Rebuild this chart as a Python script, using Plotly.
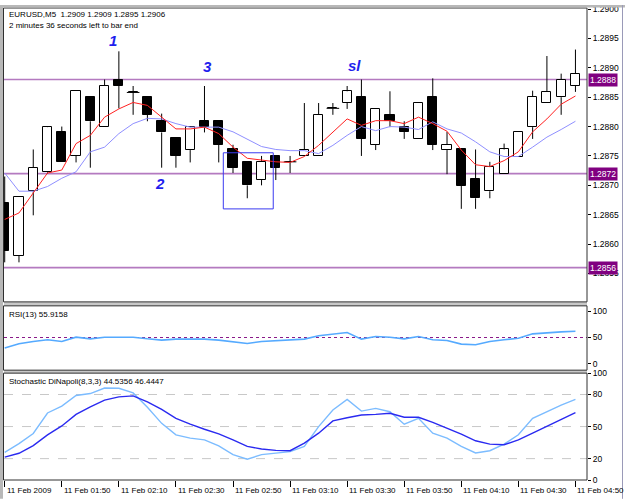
import plotly.graph_objects as go

# ---------------- data ----------------
bars = list(range(41))  # M5 bars from 01:30 to 04:50
opens  = [1.28670,1.28580,1.28690,1.28722,1.28791,1.28750,1.28851,1.28799,1.28880,1.28858,
          1.28851,1.28810,1.28780,1.28760,1.28809,1.28810,1.28761,1.28740,1.28709,1.28750,
          1.28740,1.28750,1.28750,1.28831,1.28840,1.28851,1.28769,1.28820,1.28799,1.28779,
          1.28851,1.28760,1.28761,1.28710,1.28690,1.28719,1.28749,1.28799,1.28840,1.28850,
          1.28869]
highs  = [1.28715,1.28680,1.28761,1.28800,1.28800,1.28860,1.28851,1.28880,1.28928,1.28869,
          1.28851,1.28822,1.28780,1.28800,1.28869,1.28810,1.28769,1.28740,1.28750,1.28750,
          1.28750,1.28840,1.28840,1.28840,1.28869,1.28880,1.28830,1.28860,1.28809,1.28840,
          1.28882,1.28791,1.28761,1.28761,1.28740,1.28771,1.28791,1.28861,1.28920,1.28890,
          1.28931]
lows   = [1.28569,1.28569,1.28649,1.28720,1.28739,1.28739,1.28730,1.28799,1.28831,1.28820,
          1.28809,1.28730,1.28730,1.28739,1.28790,1.28739,1.28721,1.28678,1.28700,1.28709,
          1.28721,1.28750,1.28750,1.28820,1.28830,1.28750,1.28760,1.28799,1.28779,1.28779,
          1.28760,1.28719,1.28660,1.28660,1.28678,1.28719,1.28749,1.28779,1.28840,1.28820,
          1.28859]
closes = [1.28589,1.28680,1.28730,1.28799,1.28739,1.28860,1.28809,1.28869,1.28869,1.28858,
          1.28820,1.28790,1.28750,1.28799,1.28799,1.28769,1.28730,1.28700,1.28740,1.28730,
          1.28740,1.28760,1.28820,1.28831,1.28860,1.28779,1.28830,1.28810,1.28791,1.28840,
          1.28769,1.28769,1.28699,1.28678,1.28731,1.28761,1.28791,1.28851,1.28859,1.28880,
          1.28890]
ma_fast = [1.28642,1.28653,1.28687,1.28721,1.28726,1.28771,1.28785,1.28816,1.28830,1.28841,
           1.28836,1.28816,1.28796,1.28796,1.28799,1.28788,1.28765,1.28746,1.28743,1.28740,
           1.28739,1.28749,1.28768,1.28791,1.28813,1.28802,1.28810,1.28810,1.28805,1.28816,
           1.28805,1.28792,1.28760,1.28735,1.28732,1.28742,1.28757,1.28791,1.28813,1.28838,
           1.28852]
ma_slow = [1.28721,1.28690,1.28690,1.28698,1.28712,1.28723,1.28757,1.28765,1.28788,1.28805,
           1.28814,1.28813,1.28805,1.28799,1.28799,1.28799,1.28791,1.28779,1.28766,1.28761,
           1.28759,1.28759,1.28754,1.28768,1.28785,1.28800,1.28793,1.28800,1.28799,1.28795,
           1.28808,1.28796,1.28789,1.28774,1.28757,1.28749,1.28749,1.28765,1.28782,1.28795,
           1.28809]
rsi = [30,38.2,42.5,45.7,42.5,50.6,47.5,50.6,50.6,50.6,47.5,45,46.9,46.9,46.9,45,42.5,38.8,
       42.5,43.8,45.7,46.9,53.2,55.6,59.4,46.9,51.9,50.6,47.5,51.9,45.7,44.4,37.5,36.3,42.5,
       45.7,48.7,56.9,59.4,60.7,61.9]
stoch_k = [25.8,34,43.5,62.7,69.1,79.1,80.9,86.1,85.8,81.5,68,53,42.2,39.2,37.6,32.0,23.7,
           19.4,23.7,24.8,26.5,31.4,50,65.5,75.4,64.5,67,63.9,52.2,57.7,43.8,39.2,31.4,25.3,
           27.4,33.6,42.3,57.7,63.9,70.1,75.4]
stoch_d = [21.4,25,32.2,42.2,50.6,61.4,68.5,74.7,77.8,78.7,73.1,66.1,57.7,52.2,47.5,43.2,
           37.6,31.4,29.0,27.7,27.4,34.5,43.8,55.3,58.3,60.8,61.4,62.4,58.7,58.7,54,48.5,42.9,
           36.7,33.6,33,37.6,43.8,50,56.8,63]
level_lines = [1.2888, 1.2872, 1.2856]
price_ticks = [1.2855, 1.2860, 1.2865, 1.2870, 1.2875, 1.2880, 1.2885, 1.2890, 1.2895, 1.2900]
tick_bars = [0, 4, 8, 12, 16, 20, 24, 28, 32, 36, 40]
tick_labels = ["11 Feb 2009", "11 Feb 01:50", "11 Feb 02:10", "11 Feb 02:30", "11 Feb 02:50",
               "11 Feb 03:10", "11 Feb 03:30", "11 Feb 03:50", "11 Feb 04:10", "11 Feb 04:30",
               "11 Feb 04:50"]
wave_labels = ["1", "3", "sl", "2"]
wave_bars = [7.6, 14.2, 24.5, 10.9]
wave_prices = [1.28946, 1.28902, 1.28904, 1.28703]
header1 = "EURUSD,M5  1.2909 1.2909 1.2895 1.2906"
header2 = "2 minutes 36 seconds left to bar end"
rsi_title = "RSI(13) 55.9158"
stoch_title = "Stochastic DiNapoli(8,3,3) 44.5356 46.4447"

# ---------------- layout helpers ----------------
W, H = 625, 499
L, R, T, B = 4, 38, 3, 19
PW, PH = W - L - R, H - T - B
def px(x):
    return (x - L) / PW
def py(y):
    return (H - B - y) / PH

FONT = "Liberation Sans"
fig = go.Figure()

# wicks
up_x, up_y, lo_x, lo_y = [], [], [], []
for i, o, h, l, c in zip(bars, opens, highs, lows, closes):
    top, bot = max(o, c), min(o, c)
    up_x += [i, i, None]; up_y += [top, h, None]
    lo_x += [i, i, None]; lo_y += [l, bot, None]
fig.add_trace(go.Scatter(x=up_x, y=up_y, mode="lines", line=dict(color="black", width=1),
                         hoverinfo="skip", showlegend=False))
fig.add_trace(go.Scatter(x=lo_x, y=lo_y, mode="lines", line=dict(color="black", width=1),
                         hoverinfo="skip", showlegend=False))
# bodies
fig.add_trace(go.Bar(x=bars, y=[abs(c - o) for o, c in zip(opens, closes)],
                     base=[min(o, c) for o, c in zip(opens, closes)], width=0.64,
                     marker=dict(color=["white" if c >= o else "black" for o, c in zip(opens, closes)],
                                 line=dict(color="black", width=1)),
                     showlegend=False))
doji = [i for i in bars if opens[i] == closes[i]]
fig.add_trace(go.Scatter(x=doji, y=[closes[i] for i in doji], mode="markers",
                         marker=dict(symbol="line-ew", size=9, line=dict(color="black", width=1)),
                         showlegend=False))
fig.add_trace(go.Scatter(x=bars, y=ma_slow, mode="lines", line=dict(color="#8f8fff", width=1),
                         showlegend=False))
fig.add_trace(go.Scatter(x=bars, y=ma_fast, mode="lines", line=dict(color="#ff2020", width=1),
                         showlegend=False))
# RSI
fig.add_trace(go.Scatter(x=bars, y=rsi, mode="lines", xaxis="x2", yaxis="y2",
                         line=dict(color="#55aaff", width=1.6), showlegend=False))
# Stochastic
fig.add_trace(go.Scatter(x=bars, y=stoch_k, mode="lines", xaxis="x3", yaxis="y3",
                         line=dict(color="#7cbcff", width=1.4), showlegend=False))
fig.add_trace(go.Scatter(x=bars, y=stoch_d, mode="lines", xaxis="x3", yaxis="y3",
                         line=dict(color="#2a2af0", width=1.4), showlegend=False))

shapes = []
for lv in level_lines:
    shapes.append(dict(type="line", xref="paper", yref="y", x0=0, x1=1, y0=lv, y1=lv,
                       line=dict(color="#b47ac0", width=1.6), layer="below"))
shapes.append(dict(type="line", xref="paper", yref="y2", x0=0, x1=1, y0=50, y1=50,
                   line=dict(color="#8a1a8a", width=1, dash="dot"), layer="below"))
for lv in [20, 50, 80]:
    shapes.append(dict(type="line", xref="paper", yref="y3", x0=0, x1=1, y0=lv, y1=lv,
                       line=dict(color="#c8c8c8", width=1, dash="dash"), layer="below"))
# blue box around bars 16-18
shapes.append(dict(type="rect", xref="x", yref="y", x0=15.32, x1=18.82, y0=1.286599, y1=1.287554,
                   line=dict(color="#3a3af0", width=1)))
# panel separators and frames
for y0, y1 in [(300, 304), (369, 372)]:
    shapes.append(dict(type="rect", xref="paper", yref="paper", x0=px(4), x1=px(587),
                       y0=py(y1), y1=py(y0), fillcolor="#c8c8c8", line=dict(width=0)))
for y0, y1 in [(3, 300), (304, 369), (372, 480)]:
    shapes.append(dict(type="rect", xref="paper", yref="paper", x0=px(3.5), x1=px(587),
                       y0=py(y1), y1=py(y0), line=dict(color="#303030", width=1)))
# window edges
shapes.append(dict(type="rect", xref="paper", yref="paper", x0=px(0), x1=px(3), y0=py(499), y1=py(0),
                   fillcolor="#b8b8b8", line=dict(width=0)))
shapes.append(dict(type="rect", xref="paper", yref="paper", x0=px(0), x1=px(625), y0=py(2.5), y1=py(0),
                   fillcolor="#b8b8b8", line=dict(width=0)))
shapes.append(dict(type="line", xref="paper", yref="paper", x0=px(622.5), x1=px(622.5), y0=py(499), y1=py(0),
                   line=dict(color="#9a9ab8", width=1)))

ann = []
for lv in level_lines:
    ann.append(dict(x=1, xref="paper", y=lv, yref="y", text=f"{lv:.4f}", showarrow=False,
                    xanchor="left", yanchor="middle", xshift=1, bgcolor="#800080", borderpad=1,
                    font=dict(family=FONT, size=8.5, color="white")))
for b, lab in zip(tick_bars, tick_labels):
    ann.append(dict(x=b, xref="x3", y=py(491), yref="paper", text=lab, showarrow=False,
                    xanchor="left", yanchor="middle", xshift=0,
                    font=dict(family=FONT, size=8, color="black")))
for t, b, p in zip(wave_labels, wave_bars, wave_prices):
    ann.append(dict(x=b, xref="x", y=p, yref="y", text=f"<b><i>{t}</i></b>", showarrow=False,
                    xanchor="center", yanchor="middle",
                    font=dict(family=FONT, size=15, color="#1f1fee")))
for txt, yy in [(header1, 10), (header2, 21), (rsi_title, 313), (stoch_title, 380)]:
    ann.append(dict(x=px(7), xref="paper", y=py(yy), yref="paper", text=txt, showarrow=False,
                    xanchor="left", yanchor="middle", font=dict(family=FONT, size=8, color="black")))

xr = [-0.05, 40.81]
xcommon = dict(range=xr, showgrid=False, zeroline=False, showline=False, fixedrange=True)
ycommon = dict(side="right", showgrid=False, zeroline=False, showline=False, ticks="outside",
               ticklen=3, tickcolor="black", tickfont=dict(family=FONT, size=8.5, color="black"))

fig.update_layout(
    width=W, height=H, margin=dict(l=L, r=R, t=T, b=B, pad=0),
    paper_bgcolor="white", plot_bgcolor="white", showlegend=False,
    xaxis=dict(domain=[0, 1], anchor="y", showticklabels=False, ticks="", **xcommon),
    xaxis2=dict(domain=[0, 1], anchor="y2", showticklabels=False, ticks="", matches="x", **xcommon),
    xaxis3=dict(domain=[0, 1], anchor="y3", showticklabels=False, ticks="outside", ticklen=6,
                tickcolor="black", tickvals=tick_bars, matches="x", **xcommon),
    yaxis=dict(domain=[py(300), 1], range=[1.285017, 1.290017], tickvals=price_ticks,
               tickformat=".4f", anchor="x", **ycommon),
    yaxis2=dict(domain=[py(369), py(304)], range=[-11.8, 109.9], tickvals=[0, 50, 100],
                anchor="x2", **ycommon),
    yaxis3=dict(domain=[0, py(372)], range=[0, 100], tickvals=[0, 20, 50, 80, 100],
                anchor="x3", **ycommon),
    shapes=shapes, annotations=ann, bargap=0,
)

fig.write_html("out.html")
